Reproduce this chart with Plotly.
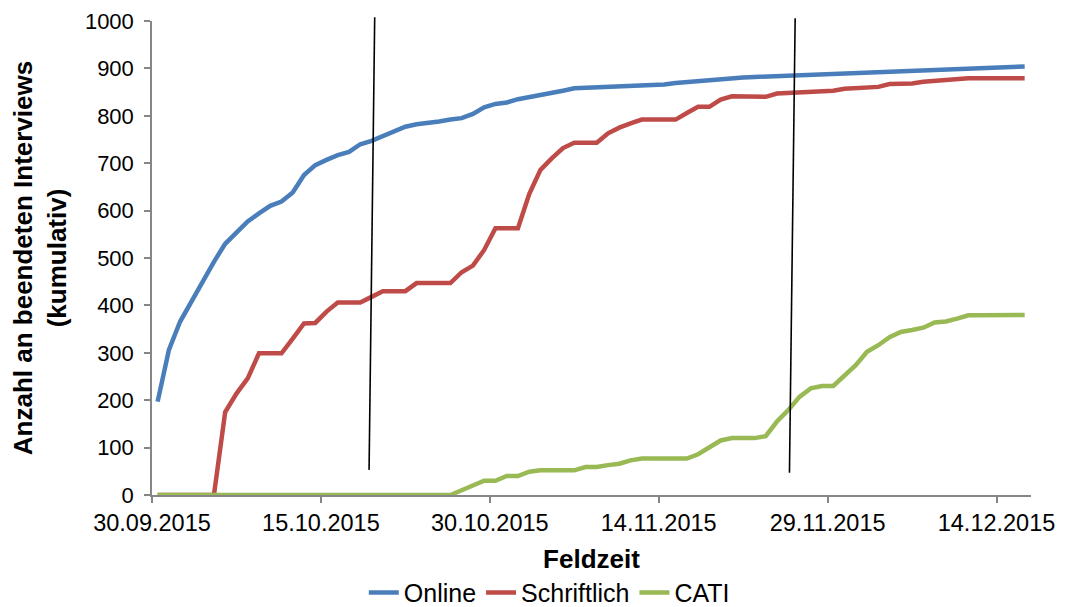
import pandas as pd
import plotly.graph_objects as go

# Daily field-time series (30.09.2015 - 16.12.2015)
start_date = "2015-09-30 12:00"
n_days = 78

online = [197, 306, 366, 408, 454, 492, 530, 552, 577, 594,
          610, 619, 638, 675, 696, 707, 717, 724, 740, 747,
          757, 768, 777, 782, 784, 788, 792, 795, 804, 818,
          825, 828, 835, 839, 845, 849, 853, 858, 859, 859,
          861, 862, 864, 864, 865, 866, 869, 871, 875, 877,
          879, 879, 881, 882, 883, 884, 885, 886, 887, 888,
          889, 890, 890, 891, 893, 894, 894, 895, 896, 897,
          897, 898, 899, 900, 901, 902, 903, 904]

schriftlich = [0, 0, 0, 0, 0, 0, 175, 214, 246, 299,
               299, 299, 330, 362, 363, 387, 406, 406, 406, 418,
               430, 430, 430, 447, 447, 447, 447, 470, 484, 517,
               563, 563, 563, 635, 686, 710, 732, 743, 743, 743,
               763, 775, 784, 792, 792, 792, 792, 806, 819, 819,
               834, 841, 840, 840, 840, 847, 848, 850, 852, 852,
               853, 857, 858, 860, 861, 867, 867, 868, 872, 874,
               875, 876, 879, 879, 879, 879, 879, 879]

cati = [0, 0, 0, 0, 0, 0, 0, 0, 0, 0,
        0, 0, 0, 0, 0, 0, 0, 0, 0, 0,
        0, 0, 0, 0, 0, 0, 0, 10, 20, 30,
        30, 40, 40, 49, 52, 52, 52, 52, 59, 59,
        63, 66, 73, 77, 77, 77, 77, 77, 86, 100,
        115, 120, 120, 120, 124, 155, 179, 207, 225, 230,
        230, 253, 274, 302, 316, 333, 344, 348, 353, 364,
        366, 372, 379, 379, 379, 379, 379, 380]

series_names = ["Online", "Schriftlich", "CATI"]
series_colors = ["#4A7EBB", "#BE4B48", "#98B954"]

tick_dates = ["2015-09-30", "2015-10-15", "2015-10-30",
              "2015-11-14", "2015-11-29", "2015-12-14"]
y_ticks = list(range(0, 1001, 100))

# Hand-drawn vertical marker lines (top/bottom ends)
marker_x_top = ["2015-10-19 18:40", "2015-11-26 02:50"]
marker_x_bottom = ["2015-10-19 06:40", "2015-11-25 14:40"]
marker_y_top = [1008, 1006]
marker_y_bottom = [53, 47]

dates = pd.date_range(start_date, periods=n_days, freq="D")

fig = go.Figure()
for name, vals, col in zip(series_names, [online, schriftlich, cati], series_colors):
    fig.add_trace(go.Scatter(x=dates, y=vals, mode="lines", name=name,
                             line=dict(color=col, width=4.5)))

for xt, xb, yt, yb in zip(marker_x_top, marker_x_bottom, marker_y_top, marker_y_bottom):
    fig.add_shape(type="line", xref="x", yref="paper",
                  x0=xb, x1=xt, y0=yb / 1000, y1=yt / 1000,
                  line=dict(color="black", width=1.6))

axis_gray = "#868686"
font_family = "Liberation Sans, Arial"

fig.update_layout(
    width=1065, height=607,
    margin=dict(l=144, r=42, t=13, b=120, autoexpand=False),
    paper_bgcolor="white", plot_bgcolor="white",
    showlegend=True,
    legend=dict(orientation="h", x=0.452, xanchor="center", y=-0.206, yanchor="middle",
                font=dict(family=font_family, size=25, color="black"),
                tracegroupgap=0),
    xaxis=dict(
        type="date", automargin=False,
        range=["2015-09-30 00:00", "2015-12-17 01:30"],
        tickvals=tick_dates, tickformat="%d.%m.%Y",
        ticks="outside", ticklen=6, tickcolor=axis_gray, tickwidth=1.5,
        showline=True, linecolor=axis_gray, linewidth=1.5,
        showgrid=False, zeroline=False,
        tickfont=dict(family=font_family, size=23.5, color="black"),
        title=dict(text="<b>Feldzeit</b>", standoff=15,
                   font=dict(family=font_family, size=26, color="black")),
    ),
    yaxis=dict(
        range=[0, 1000], tickvals=y_ticks, automargin=False,
        ticks="outside", ticklen=6, tickcolor=axis_gray, tickwidth=1.5,
        showline=True, linecolor=axis_gray, linewidth=1.5,
        showgrid=False, zeroline=False,
        tickfont=dict(family=font_family, size=22, color="black"), ticklabelstandoff=6,
        title=dict(text="<b>Anzahl an beendeten Interviews<br>(kumulativ)</b>", standoff=12,
                   font=dict(family=font_family, size=26, color="black")),
    ),
)

fig.write_html("out.html")
